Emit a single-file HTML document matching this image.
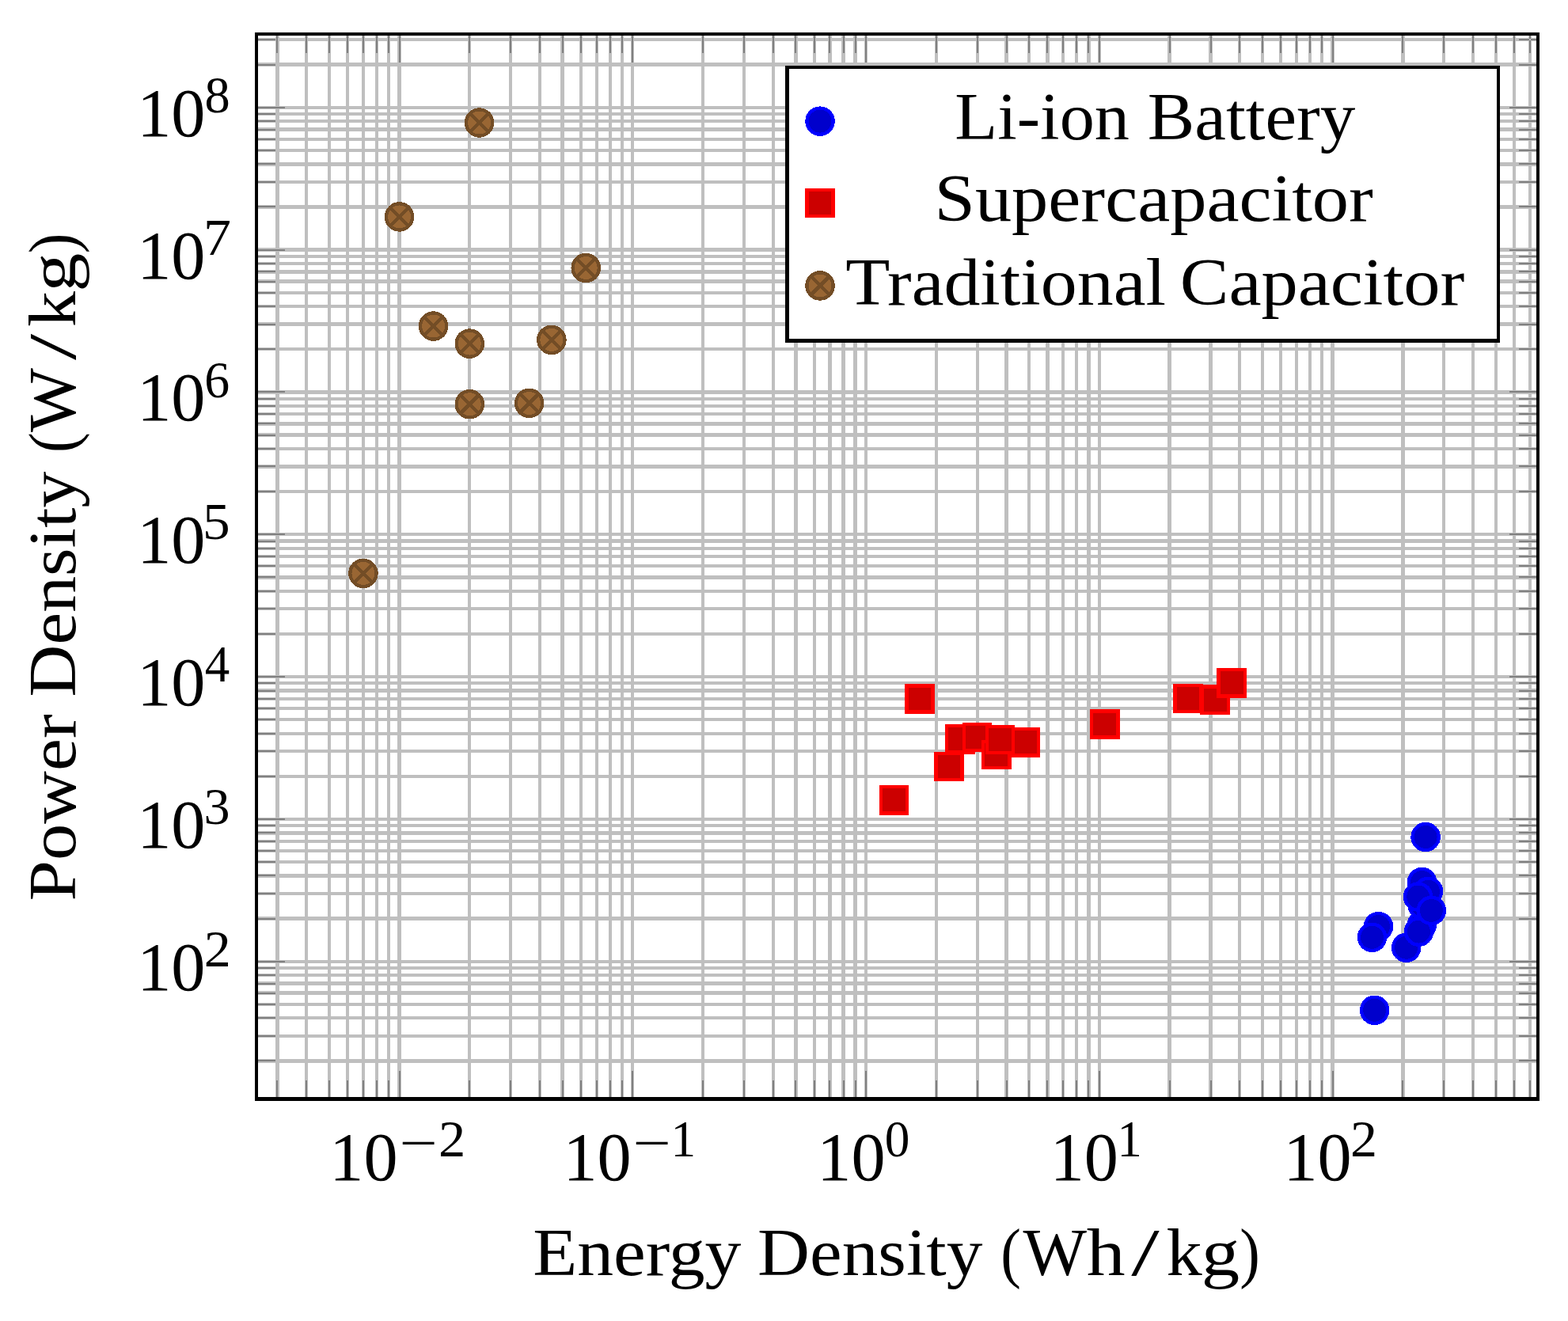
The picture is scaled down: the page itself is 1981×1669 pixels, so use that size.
<!DOCTYPE html>
<html lang="en"><head><meta charset="utf-8"><title>Energy vs Power Density</title>
<style>html,body{margin:0;padding:0;background:#fff}svg{display:block}text{font-family:"Liberation Serif","DejaVu Serif",serif;fill:#000}</style>
</head><body>
<svg width="1981" height="1669" viewBox="0 0 1981 1669">
<rect x="0" y="0" width="1981" height="1669" fill="#fff"/>
<path d="M348 41h5V1391h-5zM385 41h4V1391h-4zM414 41h4V1391h-4zM437 41h4V1391h-4zM457 41h4V1391h-4zM474 41h4V1391h-4zM489 41h4V1391h-4zM591 41h4V1391h-4zM643 41h4V1391h-4zM680 41h4V1391h-4zM708 41h5V1391h-5zM732 41h4V1391h-4zM752 41h4V1391h-4zM769 41h4V1391h-4zM784 41h4V1391h-4zM886 41h4V1391h-4zM938 41h4V1391h-4zM975 41h4V1391h-4zM1003 41h5V1391h-5zM1027 41h4V1391h-4zM1046 41h5V1391h-5zM1063 41h5V1391h-5zM1078 41h5V1391h-5zM1181 41h4V1391h-4zM1233 41h4V1391h-4zM1269 41h5V1391h-5zM1298 41h4V1391h-4zM1321 41h5V1391h-5zM1341 41h4V1391h-4zM1358 41h4V1391h-4zM1373 41h5V1391h-5zM1475 41h5V1391h-5zM1527 41h5V1391h-5zM1564 41h4V1391h-4zM1593 41h4V1391h-4zM1616 41h4V1391h-4zM1636 41h4V1391h-4zM1653 41h4V1391h-4zM1668 41h4V1391h-4zM1770 41h5V1391h-5zM1822 41h4V1391h-4zM1859 41h4V1391h-4zM1888 41h4V1391h-4zM1911 41h4V1391h-4zM1931 41h4V1391h-4zM502 41h5V1391h-5zM797 41h4V1391h-4zM1092 41h4V1391h-4zM1387 41h4V1391h-4zM1681 41h5V1391h-5zM322 1338H1945v5H322zM322 1307H1945v4H322zM322 1284H1945v4H322zM322 1267H1945v4H322zM322 1252H1945v5H322zM322 1240H1945v5H322zM322 1230H1945v4H322zM322 1221H1945v4H322zM322 1158H1945v5H322zM322 1127H1945v4H322zM322 1104H1945v5H322zM322 1087H1945v4H322zM322 1073H1945v4H322zM322 1061H1945v4H322zM322 1050H1945v5H322zM322 1041H1945v4H322zM322 979H1945v4H322zM322 947H1945v4H322zM322 925H1945v4H322zM322 907H1945v4H322zM322 893H1945v4H322zM322 881H1945v4H322zM322 870H1945v5H322zM322 861H1945v4H322zM322 799H1945v4H322zM322 767H1945v4H322zM322 745H1945v4H322zM322 727H1945v5H322zM322 713H1945v4H322zM322 701H1945v4H322zM322 691H1945v4H322zM322 681H1945v5H322zM322 619H1945v4H322zM322 587H1945v5H322zM322 565H1945v4H322zM322 547H1945v5H322zM322 533H1945v5H322zM322 521H1945v4H322zM322 511H1945v4H322zM322 502H1945v4H322zM322 439H1945v4H322zM322 407H1945v5H322zM322 385H1945v4H322zM322 368H1945v4H322zM322 353H1945v5H322zM322 341H1945v5H322zM322 331H1945v4H322zM322 322H1945v4H322zM322 259H1945v5H322zM322 228H1945v4H322zM322 205H1945v5H322zM322 188H1945v4H322zM322 174H1945v4H322zM322 161H1945v5H322zM322 151H1945v4H322zM322 142H1945v4H322zM322 79H1945v5H322zM322 48H1945v4H322zM322 1213H1945v4H322zM322 1033H1945v4H322zM322 853H1945v4H322zM322 673H1945v4H322zM322 493H1945v5H322zM322 313H1945v5H322zM322 134H1945v4H322z" fill="#bfbfbf" fill-rule="nonzero" shape-rendering="crispEdges"/>
<path d="M349 1386h2V1365h-2zM349 45h2V67h-2zM386 1386h2V1365h-2zM386 45h2V67h-2zM415 1386h2V1365h-2zM415 45h2V67h-2zM438 1386h2V1365h-2zM438 45h2V67h-2zM458 1386h2V1365h-2zM458 45h2V67h-2zM475 1386h2V1365h-2zM475 45h2V67h-2zM490 1386h2V1365h-2zM490 45h2V67h-2zM592 1386h2V1365h-2zM592 45h2V67h-2zM644 1386h2V1365h-2zM644 45h2V67h-2zM681 1386h2V1365h-2zM681 45h2V67h-2zM710 1386h2V1365h-2zM710 45h2V67h-2zM733 1386h2V1365h-2zM733 45h2V67h-2zM753 1386h2V1365h-2zM753 45h2V67h-2zM770 1386h2V1365h-2zM770 45h2V67h-2zM785 1386h2V1365h-2zM785 45h2V67h-2zM887 1386h2V1365h-2zM887 45h2V67h-2zM939 1386h2V1365h-2zM939 45h2V67h-2zM976 1386h2V1365h-2zM976 45h2V67h-2zM1004 1386h2V1365h-2zM1004 45h2V67h-2zM1028 1386h2V1365h-2zM1028 45h2V67h-2zM1047 1386h2V1365h-2zM1047 45h2V67h-2zM1065 1386h2V1365h-2zM1065 45h2V67h-2zM1080 1386h2V1365h-2zM1080 45h2V67h-2zM1182 1386h2V1365h-2zM1182 45h2V67h-2zM1234 1386h2V1365h-2zM1234 45h2V67h-2zM1271 1386h2V1365h-2zM1271 45h2V67h-2zM1299 1386h2V1365h-2zM1299 45h2V67h-2zM1322 1386h2V1365h-2zM1322 45h2V67h-2zM1342 1386h2V1365h-2zM1342 45h2V67h-2zM1359 1386h2V1365h-2zM1359 45h2V67h-2zM1374 1386h2V1365h-2zM1374 45h2V67h-2zM1477 1386h2V1365h-2zM1477 45h2V67h-2zM1529 1386h2V1365h-2zM1529 45h2V67h-2zM1565 1386h2V1365h-2zM1565 45h2V67h-2zM1594 1386h2V1365h-2zM1594 45h2V67h-2zM1617 1386h2V1365h-2zM1617 45h2V67h-2zM1637 1386h2V1365h-2zM1637 45h2V67h-2zM1654 1386h2V1365h-2zM1654 45h2V67h-2zM1669 1386h2V1365h-2zM1669 45h2V67h-2zM1771 1386h2V1365h-2zM1771 45h2V67h-2zM1823 1386h2V1365h-2zM1823 45h2V67h-2zM1860 1386h2V1365h-2zM1860 45h2V67h-2zM1889 1386h2V1365h-2zM1889 45h2V67h-2zM1912 1386h2V1365h-2zM1912 45h2V67h-2zM1932 1386h2V1365h-2zM1932 45h2V67h-2zM504 1386h2V1353h-2zM504 45h2V79h-2zM798 1386h2V1353h-2zM798 45h2V79h-2zM1093 1386h2V1353h-2zM1093 45h2V79h-2zM1388 1386h2V1353h-2zM1388 45h2V79h-2zM1683 1386h2V1353h-2zM1683 45h2V79h-2zM326 1339H348v2H326zM1941 1339H1919v2H1941zM326 1308H348v2H326zM1941 1308H1919v2H1941zM326 1285H348v2H326zM1941 1285H1919v2H1941zM326 1268H348v2H326zM1941 1268H1919v2H1941zM326 1254H348v2H326zM1941 1254H1919v2H1941zM326 1242H348v2H326zM1941 1242H1919v2H1941zM326 1231H348v2H326zM1941 1231H1919v2H1941zM326 1222H348v2H326zM1941 1222H1919v2H1941zM326 1160H348v2H326zM1941 1160H1919v2H1941zM326 1128H348v2H326zM1941 1128H1919v2H1941zM326 1105H348v2H326zM1941 1105H1919v2H1941zM326 1088H348v2H326zM1941 1088H1919v2H1941zM326 1074H348v2H326zM1941 1074H1919v2H1941zM326 1062H348v2H326zM1941 1062H1919v2H1941zM326 1051H348v2H326zM1941 1051H1919v2H1941zM326 1042H348v2H326zM1941 1042H1919v2H1941zM326 980H348v2H326zM1941 980H1919v2H1941zM326 948H348v2H326zM1941 948H1919v2H1941zM326 926H348v2H326zM1941 926H1919v2H1941zM326 908H348v2H326zM1941 908H1919v2H1941zM326 894H348v2H326zM1941 894H1919v2H1941zM326 882H348v2H326zM1941 882H1919v2H1941zM326 872H348v2H326zM1941 872H1919v2H1941zM326 862H348v2H326zM1941 862H1919v2H1941zM326 800H348v2H326zM1941 800H1919v2H1941zM326 768H348v2H326zM1941 768H1919v2H1941zM326 746H348v2H326zM1941 746H1919v2H1941zM326 728H348v2H326zM1941 728H1919v2H1941zM326 714H348v2H326zM1941 714H1919v2H1941zM326 702H348v2H326zM1941 702H1919v2H1941zM326 692H348v2H326zM1941 692H1919v2H1941zM326 683H348v2H326zM1941 683H1919v2H1941zM326 620H348v2H326zM1941 620H1919v2H1941zM326 588H348v2H326zM1941 588H1919v2H1941zM326 566H348v2H326zM1941 566H1919v2H1941zM326 549H348v2H326zM1941 549H1919v2H1941zM326 534H348v2H326zM1941 534H1919v2H1941zM326 522H348v2H326zM1941 522H1919v2H1941zM326 512H348v2H326zM1941 512H1919v2H1941zM326 503H348v2H326zM1941 503H1919v2H1941zM326 440H348v2H326zM1941 440H1919v2H1941zM326 409H348v2H326zM1941 409H1919v2H1941zM326 386H348v2H326zM1941 386H1919v2H1941zM326 369H348v2H326zM1941 369H1919v2H1941zM326 355H348v2H326zM1941 355H1919v2H1941zM326 342H348v2H326zM1941 342H1919v2H1941zM326 332H348v2H326zM1941 332H1919v2H1941zM326 323H348v2H326zM1941 323H1919v2H1941zM326 260H348v2H326zM1941 260H1919v2H1941zM326 229H348v2H326zM1941 229H1919v2H1941zM326 206H348v2H326zM1941 206H1919v2H1941zM326 189H348v2H326zM1941 189H1919v2H1941zM326 175H348v2H326zM1941 175H1919v2H1941zM326 163H348v2H326zM1941 163H1919v2H1941zM326 152H348v2H326zM1941 152H1919v2H1941zM326 143H348v2H326zM1941 143H1919v2H1941zM326 81H348v2H326zM1941 81H1919v2H1941zM326 49H348v2H326zM1941 49H1919v2H1941zM326 1214H360v2H326zM1941 1214H1907v2H1941zM326 1034H360v2H326zM1941 1034H1907v2H1941zM326 854H360v2H326zM1941 854H1907v2H1941zM326 674H360v2H326zM1941 674H1907v2H1941zM326 494H360v2H326zM1941 494H1907v2H1941zM326 315H360v2H326zM1941 315H1907v2H1941zM326 135H360v2H326zM1941 135H1907v2H1941z" fill="#808080" shape-rendering="crispEdges"/>
<path d="M322 41H1945V1391H322zM326 45V1386H1941V45z" fill="#000" fill-rule="evenodd" shape-rendering="crispEdges"/>
<g fill="#0000cc" stroke="#0000ff" stroke-width="4.32" shape-rendering="crispEdges"><circle cx="1736.65" cy="1276.30" r="16.6"/><circle cx="1741.50" cy="1170.60" r="16.6"/><circle cx="1733.50" cy="1184.30" r="16.6"/><circle cx="1776.65" cy="1197.25" r="16.6"/><circle cx="1796.20" cy="1168.80" r="16.6"/><circle cx="1797.00" cy="1143.20" r="16.6"/><circle cx="1792.50" cy="1177.10" r="16.6"/><circle cx="1801.10" cy="1057.50" r="16.6"/><circle cx="1796.60" cy="1114.50" r="16.6"/><circle cx="1804.50" cy="1126.30" r="16.6"/><circle cx="1791.60" cy="1133.00" r="16.6"/><circle cx="1808.40" cy="1150.40" r="16.6"/></g>
<g shape-rendering="crispEdges"><rect x="1111" y="992" width="37" height="38" fill="#ff0000"/><rect x="1115" y="996" width="29" height="29" fill="#cc0000"/><rect x="1143" y="864" width="38" height="38" fill="#ff0000"/><rect x="1148" y="869" width="28" height="28" fill="#cc0000"/><rect x="1180" y="950" width="38" height="37" fill="#ff0000"/><rect x="1185" y="954" width="28" height="29" fill="#cc0000"/><rect x="1194" y="915" width="38" height="38" fill="#ff0000"/><rect x="1198" y="919" width="29" height="29" fill="#cc0000"/><rect x="1216" y="913" width="37" height="37" fill="#ff0000"/><rect x="1220" y="917" width="29" height="29" fill="#cc0000"/><rect x="1240" y="935" width="38" height="37" fill="#ff0000"/><rect x="1244" y="939" width="29" height="29" fill="#cc0000"/><rect x="1277" y="919" width="37" height="38" fill="#ff0000"/><rect x="1281" y="923" width="29" height="29" fill="#cc0000"/><rect x="1245" y="916" width="37" height="37" fill="#ff0000"/><rect x="1249" y="920" width="29" height="29" fill="#cc0000"/><rect x="1377" y="896" width="38" height="38" fill="#ff0000"/><rect x="1381" y="901" width="29" height="28" fill="#cc0000"/><rect x="1482" y="864" width="38" height="37" fill="#ff0000"/><rect x="1487" y="868" width="28" height="29" fill="#cc0000"/><rect x="1516" y="865" width="38" height="38" fill="#ff0000"/><rect x="1521" y="870" width="29" height="29" fill="#cc0000"/><rect x="1537" y="844" width="38" height="38" fill="#ff0000"/><rect x="1542" y="848" width="29" height="29" fill="#cc0000"/></g>
<g fill="#996633" stroke="#734d26" stroke-width="4.32" shape-rendering="crispEdges"><circle cx="458.93" cy="724.40" r="16.6"/><path d="M447.19 712.66L470.67 736.14M447.19 736.14L470.67 712.66"/><circle cx="504.55" cy="273.90" r="16.6"/><path d="M492.81 262.16L516.29 285.64M492.81 285.64L516.29 262.16"/><circle cx="547.60" cy="412.05" r="16.6"/><path d="M535.86 400.31L559.34 423.79M535.86 423.79L559.34 400.31"/><circle cx="593.29" cy="434.10" r="16.6"/><path d="M581.55 422.36L605.03 445.84M581.55 445.84L605.03 422.36"/><circle cx="593.29" cy="510.74" r="16.6"/><path d="M581.55 499.00L605.03 522.48M581.55 522.48L605.03 499.00"/><circle cx="605.60" cy="155.00" r="16.6"/><path d="M593.86 143.26L617.34 166.74M593.86 166.74L617.34 143.26"/><circle cx="668.60" cy="509.40" r="16.6"/><path d="M656.86 497.66L680.34 521.14M656.86 521.14L680.34 497.66"/><circle cx="696.85" cy="429.45" r="16.6"/><path d="M685.11 417.71L708.59 441.19M685.11 441.19L708.59 417.71"/><circle cx="740.20" cy="338.50" r="16.6"/><path d="M728.46 326.76L751.94 350.24M728.46 350.24L751.94 326.76"/></g>
<path d="M992 83H1895V433H992zM997 87V428H1891V87z" fill="#000" fill-rule="evenodd" shape-rendering="crispEdges"/>
<rect x="997" y="87" width="894" height="341" fill="#fff" shape-rendering="crispEdges"/>
<g fill="#0000cc" stroke="#0000ff" stroke-width="4.32" shape-rendering="crispEdges"><circle cx="1036.04" cy="153.14" r="16.6"/></g>
<g shape-rendering="crispEdges"><rect x="1017" y="238" width="38" height="37" fill="#ff0000"/><rect x="1022" y="242" width="28" height="29" fill="#cc0000"/></g>
<g fill="#996633" stroke="#734d26" stroke-width="4.32" shape-rendering="crispEdges"><circle cx="1036.04" cy="360.93" r="16.6"/><path d="M1024.30 349.19L1047.78 372.67M1024.30 372.67L1047.78 349.19"/></g>
<text id="leg1" font-size="85.6"><tspan x="1206.22" y="175.70" textLength="220.73" lengthAdjust="spacingAndGlyphs">Li-ion</tspan> <tspan x="1449.79" y="175.70" textLength="262.58" lengthAdjust="spacingAndGlyphs">Battery</tspan></text>
<text id="leg2" font-size="85.6"><tspan x="1180.49" y="278.75" textLength="554.33" lengthAdjust="spacingAndGlyphs">Supercapacitor</tspan></text>
<text id="leg3" font-size="85.6"><tspan x="1068.19" y="384.80" textLength="404.74" lengthAdjust="spacingAndGlyphs">Traditional</tspan> <tspan x="1490.72" y="384.80" textLength="359.59" lengthAdjust="spacingAndGlyphs">Capacitor</tspan></text>
<text id="xlabel" font-size="85.6"><tspan x="673.22" y="1611.00" textLength="263.10" lengthAdjust="spacingAndGlyphs">Energy</tspan> <tspan x="957.13" y="1611.00" textLength="284.28" lengthAdjust="spacingAndGlyphs">Density</tspan> <tspan x="1264.33" y="1611.00" textLength="25.66" lengthAdjust="spacingAndGlyphs">(</tspan><tspan x="1292.40" y="1611.00" textLength="80.45" lengthAdjust="spacingAndGlyphs">W</tspan><tspan x="1372.84" y="1611.00" textLength="48.86" lengthAdjust="spacingAndGlyphs">h</tspan><tspan x="1429.30" y="1611.00" textLength="35.45" lengthAdjust="spacingAndGlyphs">/</tspan><tspan x="1473.45" y="1611.00" textLength="45.20" lengthAdjust="spacingAndGlyphs">k</tspan><tspan x="1517.86" y="1611.00" textLength="48.39" lengthAdjust="spacingAndGlyphs">g</tspan><tspan x="1566.14" y="1611.00" textLength="25.53" lengthAdjust="spacingAndGlyphs">)</tspan></text>
<text id="ylabel" font-size="85.6" transform="translate(95.10 0) rotate(-90)"><tspan x="-1138.40" y="0" textLength="236.08" lengthAdjust="spacingAndGlyphs">Power</tspan> <tspan x="-880.68" y="0" textLength="284.98" lengthAdjust="spacingAndGlyphs">Density</tspan> <tspan x="-572.08" y="0" textLength="25.66" lengthAdjust="spacingAndGlyphs">(</tspan><tspan x="-545.90" y="0" textLength="80.95" lengthAdjust="spacingAndGlyphs">W</tspan><tspan x="-455.10" y="0" textLength="33.25" lengthAdjust="spacingAndGlyphs">/</tspan><tspan x="-412.94" y="0" textLength="44.99" lengthAdjust="spacingAndGlyphs">k</tspan><tspan x="-368.71" y="0" textLength="49.19" lengthAdjust="spacingAndGlyphs">g</tspan><tspan x="-320.16" y="0" textLength="25.53" lengthAdjust="spacingAndGlyphs">)</tspan></text>
<text id="yt2" font-size="85.9"><tspan x="173.28" y="1250.76" textLength="86.19" lengthAdjust="spacingAndGlyphs">10</tspan><tspan x="257.77" y="1220.86" font-size="66.1" textLength="33.99" lengthAdjust="spacingAndGlyphs">2</tspan></text>
<text id="yt3" font-size="85.9"><tspan x="173.28" y="1070.93" textLength="86.19" lengthAdjust="spacingAndGlyphs">10</tspan><tspan x="257.60" y="1041.03" font-size="66.1" textLength="33.05" lengthAdjust="spacingAndGlyphs">3</tspan></text>
<text id="yt4" font-size="85.9"><tspan x="173.28" y="891.10" textLength="86.19" lengthAdjust="spacingAndGlyphs">10</tspan><tspan x="258.65" y="861.20" font-size="66.1" textLength="31.45" lengthAdjust="spacingAndGlyphs">4</tspan></text>
<text id="yt5" font-size="85.9"><tspan x="173.28" y="711.27" textLength="86.19" lengthAdjust="spacingAndGlyphs">10</tspan><tspan x="256.12" y="681.37" font-size="66.1" textLength="34.66" lengthAdjust="spacingAndGlyphs">5</tspan></text>
<text id="yt6" font-size="85.9"><tspan x="173.28" y="531.45" textLength="86.19" lengthAdjust="spacingAndGlyphs">10</tspan><tspan x="258.20" y="501.55" font-size="66.1" textLength="31.88" lengthAdjust="spacingAndGlyphs">6</tspan></text>
<text id="yt7" font-size="85.9"><tspan x="173.28" y="351.62" textLength="86.19" lengthAdjust="spacingAndGlyphs">10</tspan><tspan x="257.06" y="321.72" font-size="66.1" textLength="34.97" lengthAdjust="spacingAndGlyphs">7</tspan></text>
<text id="yt8" font-size="85.9"><tspan x="173.28" y="171.79" textLength="86.19" lengthAdjust="spacingAndGlyphs">10</tspan><tspan x="258.42" y="141.89" font-size="66.1" textLength="32.17" lengthAdjust="spacingAndGlyphs">8</tspan></text>
<text id="xt-2" font-size="85.9"><tspan x="416.38" y="1491.30" textLength="86.19" lengthAdjust="spacingAndGlyphs">10</tspan><tspan x="504.59" y="1466.30" font-size="66.1" textLength="48.25" lengthAdjust="spacingAndGlyphs">−</tspan><tspan x="553.94" y="1461.40" font-size="66.1" textLength="34.24" lengthAdjust="spacingAndGlyphs">2</tspan></text>
<text id="xt-1" font-size="85.9"><tspan x="711.40" y="1491.30" textLength="86.19" lengthAdjust="spacingAndGlyphs">10</tspan><tspan x="799.62" y="1466.30" font-size="66.1" textLength="48.25" lengthAdjust="spacingAndGlyphs">−</tspan><tspan x="847.46" y="1461.40" font-size="66.1" textLength="31.62" lengthAdjust="spacingAndGlyphs">1</tspan></text>
<text id="xt0" font-size="85.9"><tspan x="1032.30" y="1491.30" textLength="86.19" lengthAdjust="spacingAndGlyphs">10</tspan><tspan x="1117.71" y="1461.40" font-size="66.1" textLength="31.63" lengthAdjust="spacingAndGlyphs">0</tspan></text>
<text id="xt1" font-size="85.9"><tspan x="1326.72" y="1491.30" textLength="86.19" lengthAdjust="spacingAndGlyphs">10</tspan><tspan x="1411.56" y="1461.40" font-size="66.1" textLength="31.27" lengthAdjust="spacingAndGlyphs">1</tspan></text>
<text id="xt2" font-size="85.9"><tspan x="1621.47" y="1491.30" textLength="86.19" lengthAdjust="spacingAndGlyphs">10</tspan><tspan x="1705.97" y="1461.40" font-size="66.1" textLength="33.99" lengthAdjust="spacingAndGlyphs">2</tspan></text>
</svg></body></html>
